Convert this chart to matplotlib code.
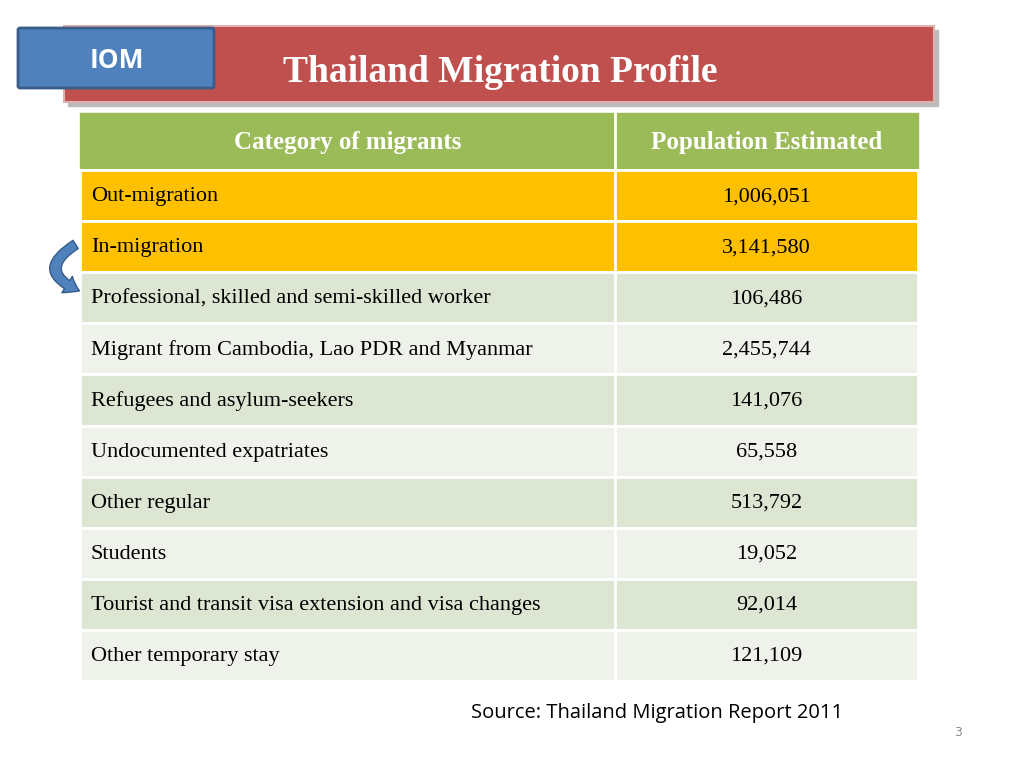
import matplotlib.pyplot as plt
from matplotlib.patches import Rectangle, FancyBboxPatch, FancyArrowPatch

# Data
header = ['Category of migrants', 'Population Estimated']
categories = ['Out-migration', 'In-migration',
              'Professional, skilled and semi-skilled worker',
              'Migrant from Cambodia, Lao PDR and Myanmar',
              'Refugees and asylum-seekers', 'Undocumented expatriates',
              'Other regular', 'Students',
              'Tourist and transit visa extension and visa changes',
              'Other temporary stay']
populations = ['1,006,051', '3,141,580', '106,486', '2,455,744', '141,076',
               '65,558', '513,792', '19,052', '92,014', '121,109']

fig = plt.figure(figsize=(10.24, 7.68), dpi=100)
ax = fig.add_axes([0, 0, 1, 1])
ax.set_xlim(0, 1024)
ax.set_ylim(768, 0)
ax.axis('off')

serif = 'Liberation Serif'

# Title banner with shadow
ax.add_patch(Rectangle((68, 30), 870, 76, color='#bbbbbb', zorder=1))
ax.add_patch(Rectangle((64, 26), 870, 76, facecolor='#C0504D',
                       edgecolor='#e0b0ae', lw=1.5, zorder=2))
ax.text(500, 72, 'Thailand Migration Profile', color='white', fontsize=27,
        fontweight='bold', family=serif, ha='center', va='center', zorder=3)

# IOM tab
ax.add_patch(FancyBboxPatch((20, 30), 192, 56, boxstyle='round,pad=2',
                            facecolor='#4F81BD', edgecolor='#385D8A', lw=2, zorder=4))
ax.text(117, 60, 'IOM', color='white', fontsize=19, fontweight='bold',
        family='Open Sans', ha='center', va='center', zorder=5)

# Table
x0, xm, x1 = 80, 615, 918
hy0, hy1 = 113, 168
ax.add_patch(Rectangle((x0, hy0), x1 - x0, hy1 - hy0, color='#9BBB59', zorder=2))
ax.plot([xm, xm], [hy0, hy1], color='white', lw=2, zorder=3)
ax.text((x0 + xm) / 2, (hy0 + hy1) / 2 + 2, header[0], color='white', fontsize=18,
        fontweight='bold', family=serif, ha='center', va='center', zorder=3)
ax.text((xm + x1) / 2, (hy0 + hy1) / 2 + 2, header[1], color='white', fontsize=18,
        fontweight='bold', family=serif, ha='center', va='center', zorder=3)

row_h = 51.1
y = 170
for i, (cat, pop) in enumerate(zip(categories, populations)):
    if i < 2:
        fc = '#FFC000'
    elif i % 2 == 0:
        fc = '#DDE6D2'
    else:
        fc = '#EEF2EA'
    ax.add_patch(Rectangle((x0, y), x1 - x0, row_h, facecolor=fc,
                           edgecolor='white', lw=2, zorder=2))
    ax.plot([xm, xm], [y, y + row_h], color='white', lw=2, zorder=3)
    ax.text(x0 + 11, y + row_h / 2 + 1, cat, fontsize=16, family=serif,
            ha='left', va='center', zorder=3)
    ax.text((xm + x1) / 2, y + row_h / 2 + 1, pop, fontsize=16, family=serif,
            ha='center', va='center', zorder=3)
    y += row_h

# Curved arrow
ax.add_patch(FancyArrowPatch((78, 243), (82, 292), connectionstyle='arc3,rad=1.0',
                             arrowstyle='simple,head_width=14,head_length=10,tail_width=7',
                             facecolor='#4F81BD', edgecolor='#385D8A', zorder=4))

ax.text(657, 713, 'Source: Thailand Migration Report 2011', fontsize=14.5,
        family='Open Sans', ha='center', va='center')
ax.text(958, 733, '3', fontsize=9, color='#888888', ha='center', va='center')

fig.savefig('out.png', dpi=100)
